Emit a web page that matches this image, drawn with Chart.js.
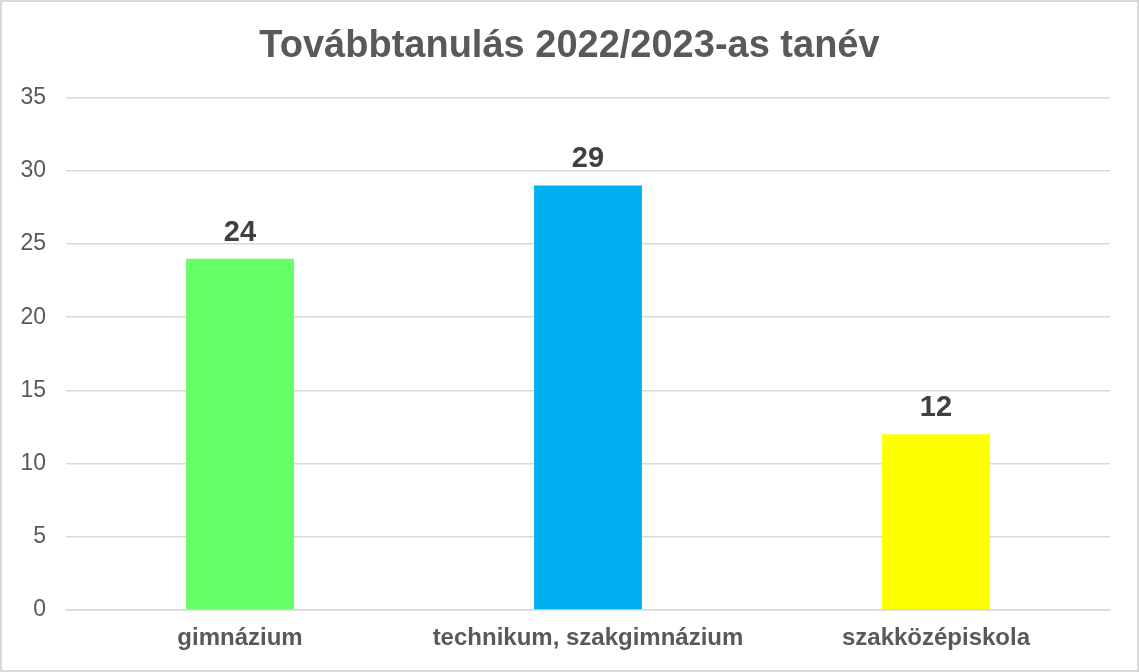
<!DOCTYPE html>
<html>
<head>
<meta charset="utf-8">
<script src="https://cdn.jsdelivr.net/npm/chart.js@4"></script>
<style>
  html, body { margin: 0; padding: 0; background: #fff; }
  #wrap { width: 1135px; height: 668px; border: 2px solid #d9d9d9; background: #fff; }
</style>
</head>
<body>
<div id="wrap"><canvas id="chart" width="1135" height="668"></canvas></div>
<script>
// ── Data ─────────────────────────────────────────────
const categories = ['gimnázium', 'technikum, szakgimnázium', 'szakközépiskola'];
const values = [24, 29, 12];
const barColors = ['#66FF66', '#00B0F0', '#FFFF00'];
const titleText = 'Továbbtanulás 2022/2023-as tanév';

const FONT = "'Liberation Sans', Arial, sans-serif";

// value labels over each bar
const valueLabels = {
  id: 'valueLabels',
  afterDatasetsDraw(chart) {
    const ctx = chart.ctx;
    const meta = chart.getDatasetMeta(0);
    ctx.save();
    ctx.font = 'bold 29px ' + FONT;
    ctx.fillStyle = '#404040';
    ctx.textAlign = 'center';
    ctx.textBaseline = 'alphabetic';
    meta.data.forEach((bar, i) => {
      ctx.fillText(values[i], bar.x, bar.y - 18);
    });
    ctx.restore();
  }
};

new Chart(document.getElementById('chart'), {
  type: 'bar',
  data: {
    labels: categories,
    datasets: [{
      data: values,
      backgroundColor: barColors,
      borderWidth: 0,
      categoryPercentage: 1,
      barPercentage: 0.31
    }]
  },
  options: {
    responsive: false,
    animation: false,
    layout: { padding: 0 },
    plugins: {
      legend: { display: false },
      tooltip: { enabled: false },
      title: {
        display: true,
        text: titleText,
        color: '#595959',
        font: { family: FONT, size: 38, weight: 'bold' },
        padding: { top: 22, bottom: 28 }
      }
    },
    scales: {
      x: {
        afterFit(scale) { scale.height = 60; },
        grid: { display: false, drawTicks: false },
        border: { display: true, color: '#d9d9d9', width: 1.5 },
        ticks: { color: '#595959', padding: 14, font: { family: FONT, size: 24, weight: 'bold' } }
      },
      y: {
        min: 0, max: 35,
        afterFit(scale) { scale.width = 64; },
        grid: { color: '#d9d9d9', lineWidth: 1.5, drawTicks: false },
        border: { display: false },
        ticks: { stepSize: 5, color: '#595959', padding: 20, font: { family: FONT, size: 23 } }
      },
      // empty right-hand spacer so the plot ends short of the frame
      spacer: {
        type: 'linear',
        position: 'right',
        afterFit(scale) { scale.width = 27; },
        grid: { display: false, drawTicks: false },
        border: { display: false },
        ticks: { display: false }
      }
    }
  },
  plugins: [valueLabels]
});
</script>
</body>
</html>
